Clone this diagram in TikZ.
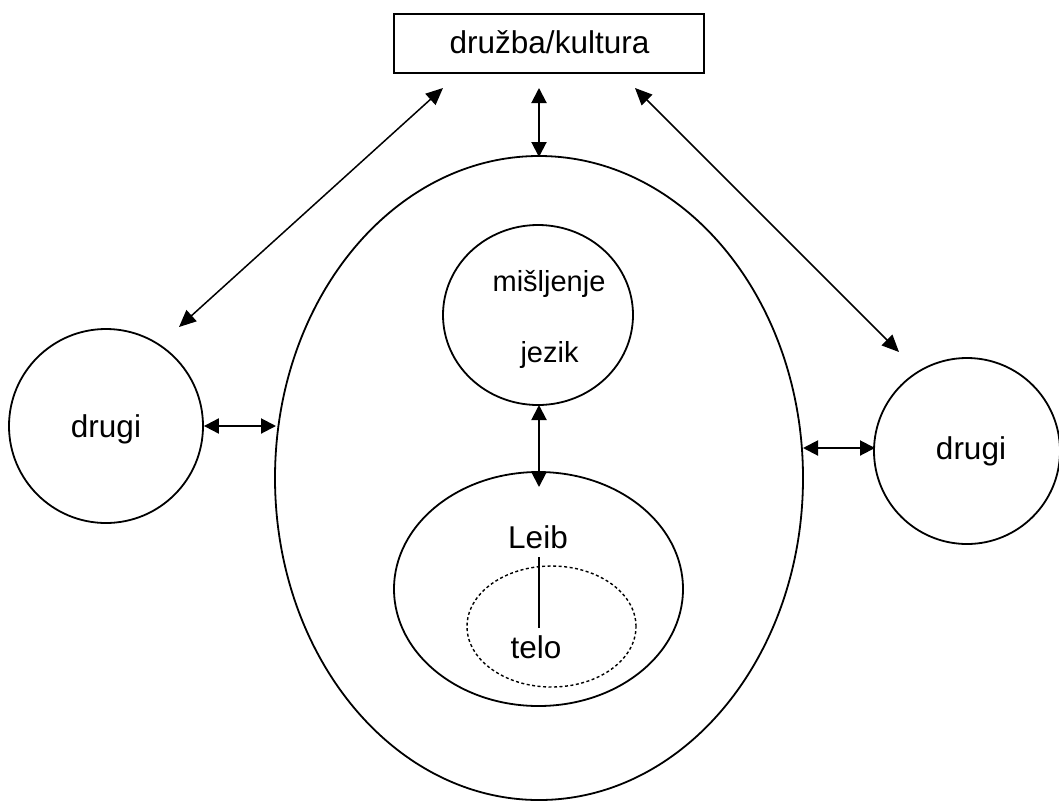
\documentclass[tikz,border=0pt]{standalone}
\usepackage{fontspec}
\setmainfont{Liberation Sans}
\usetikzlibrary{shapes.geometric,arrows.meta}
\begin{document}
\begin{tikzpicture}[x=1pt,y=-1pt,
  shp/.style={draw,line width=1.8pt,inner sep=0pt},
  lbl/.style={font=\fontsize{31.5}{36}\selectfont,inner sep=0pt,anchor=base},
  sm/.style={font=\fontsize{29}{34}\selectfont,inner sep=0pt,anchor=base},
  biarrow/.style={{Triangle[length=15pt,width=15pt]}-{Triangle[length=15pt,width=15pt]},line width=2pt},
  diarrow/.style={{Triangle[length=17pt,width=15pt]}-{Triangle[length=17pt,width=15pt]},line width=1.5pt},
  ]
\useasboundingbox (0,0) rectangle (1059,801);
% shapes
\node[shp,rectangle,minimum width=310pt,minimum height=59pt] (box) at (549,43.5) {};
\node[shp,ellipse,minimum width=528pt,minimum height=644pt] (big) at (539,478) {};
\node[shp,circle,minimum size=194pt] (dl) at (106,426) {};
\node[shp,circle,minimum size=186pt] (dr) at (967,451) {};
\node[shp,ellipse,minimum width=190pt,minimum height=180pt] (mis) at (538,315) {};
\node[shp,ellipse,minimum width=289pt,minimum height=234pt] (leib) at (538.5,589) {};
\node[draw,ellipse,line width=1.4pt,dash pattern=on 3pt off 2.5pt,inner sep=0pt,minimum width=169pt,minimum height=121pt] (telo) at (551.5,626.5) {};
% texts
\node[lbl] (tbox) at (549.5,53) {družba/kultura};
\node[lbl] (tdl) at (106,437) {drugi};
\node[lbl] (tdr) at (971,459) {drugi};
\node[sm] (tmis) at (549,291) {mišljenje};
\node[sm] (tjez) at (549.5,362) {jezik};
\node[lbl] (tleib) at (538,548) {Leib};
\node[lbl] (ttelo) at (536,658) {telo};
% arrow end points
\coordinate (a1) at (539,88);
\coordinate (a2) at (539,157);
\coordinate (l1) at (443,88);
\coordinate (l2) at (179,327);
\coordinate (r1) at (635,88);
\coordinate (r2) at (899,352);
\coordinate (h1) at (276,426);
\coordinate (h2) at (803,448);
\coordinate (h3) at (875,448);
\coordinate (m1) at (539,405);
\coordinate (m2) at (539,487);
\coordinate (v1) at (539,557);
\coordinate (v2) at (539,628);
% connectors
\draw[biarrow] (a1) -- (a2);
\draw[diarrow] (l1) -- (l2);
\draw[diarrow] (r1) -- (r2);
\draw[biarrow] (dl.east) -- (h1);
\draw[biarrow] (h2) -- (h3);
\draw[biarrow] (m1) -- (m2);
\draw[line width=1.8pt] (v1) -- (v2);
\end{tikzpicture}
\end{document}
